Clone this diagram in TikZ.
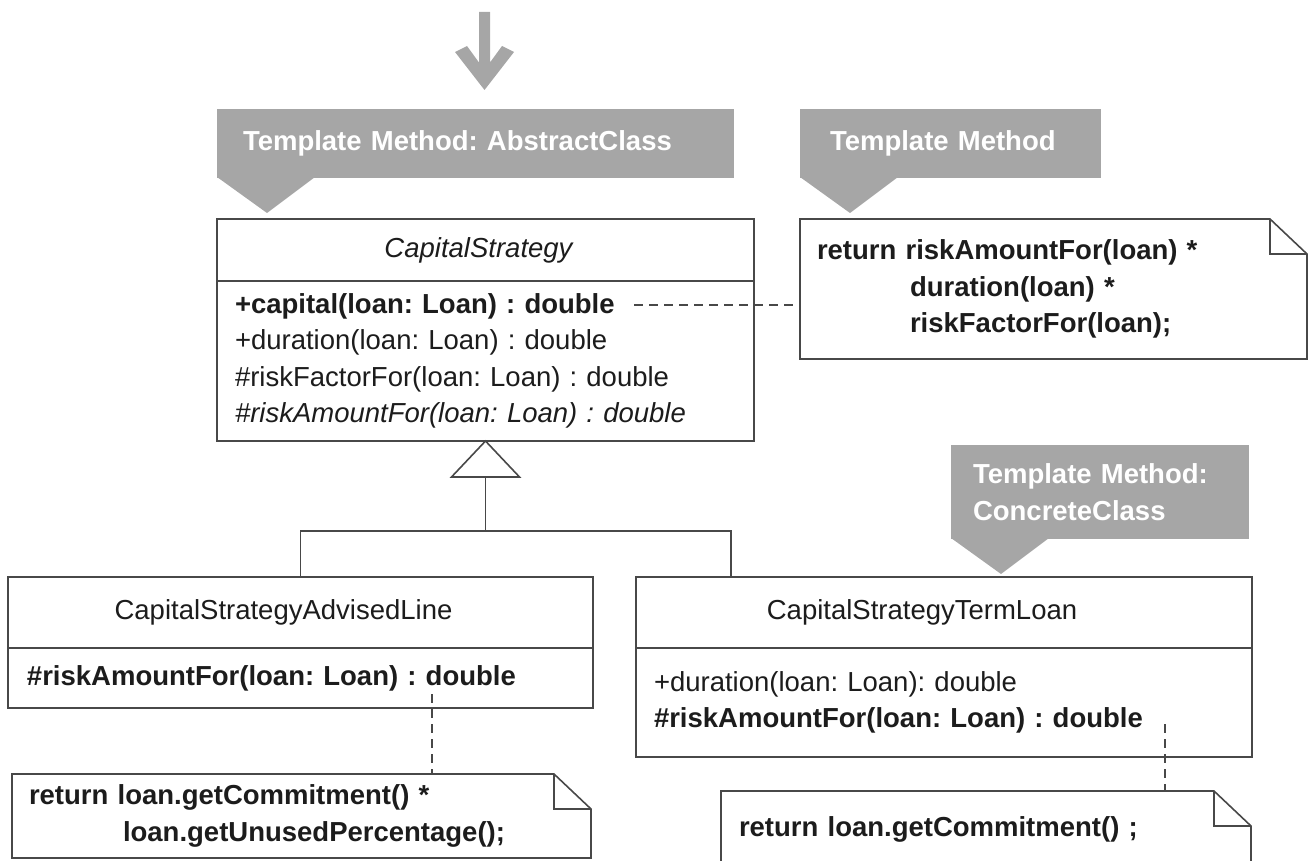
\documentclass[tikz,border=0pt]{standalone}
\usepackage{fontspec}
\setmainfont{Liberation Sans}
\usetikzlibrary{calc, positioning}

\definecolor{calloutgray}{RGB}{166,166,166}
\definecolor{linegray}{RGB}{72,72,72}
\definecolor{inkgray}{RGB}{28,28,28}

\newcommand{\umlfont}{\fontsize{27.5pt}{36.5pt}\selectfont}
\newcommand{\foldw}{37pt}
\newcommand{\foldh}{35pt}

% note with a folded corner, drawn round a named node
\newcommand{\notefold}[1]{%
  \draw[umlline] (#1.north west) -- ([xshift=-\foldw]#1.north east) -- ([yshift=-\foldh]#1.north east)
    -- (#1.south east) -- (#1.south west) -- cycle;
  \draw[umlline] ([xshift=-\foldw]#1.north east) |- ([yshift=-\foldh]#1.north east);}

% pointer under a grey callout
\newcommand{\calloutptr}[1]{%
  \fill[calloutgray] ($(#1.south west)+(0,-1)$) -- ++(98,0) -- ($(#1.south west)+(50,35)$) -- cycle;}

\begin{document}
\frenchspacing
\begin{tikzpicture}[x=1pt, y=-1pt, font=\umlfont, text=inkgray,
    umlline/.style={draw=linegray, line width=1.6pt},
    classbox/.style={umlline, fill=white, outer sep=0pt, inner ysep=0pt},
    namebox/.style={classbox, align=center, anchor=north west},
    opsbox/.style={classbox, align=left},
    callout/.style={fill=calloutgray, text=white, font=\umlfont\bfseries, inner ysep=0pt,
      outer sep=0pt, align=left, anchor=north west},
    note/.style={font=\umlfont\bfseries, inner ysep=0pt, outer sep=0pt, align=left, anchor=north west},
    notelink/.style={draw=linegray, line width=1.4pt, dash pattern=on 9pt off 6pt}]
    \useasboundingbox (0,0) rectangle (1312,861);
    \clip (0,0) rectangle (1312,861);

    % arrow on top
    \coordinate (arrtip) at (484.5,90);
    \fill[calloutgray, shift={(arrtip)}] (-5.5,-78) -- (-5.5,-27.5) -- (-17.5,-44) -- (-29.5,-38) -- (0,0)
        -- (29.5,-38) -- (17.5,-44) -- (5.5,-27.5) -- (5.5,-78) -- cycle;

    % callouts
    \node[callout, text width=465pt, inner xsep=26pt, minimum height=69pt] (abscall) at (217,109) {Template Method: AbstractClass};
    \node[callout, text width=241pt, inner xsep=30pt, minimum height=69pt] (tmcall) at (800,109) {Template Method};
    \node[callout, text width=254pt, inner xsep=22pt, minimum height=94pt] (conccall) at (951,445) {Template Method:\\ConcreteClass};
    \calloutptr{abscall}
    \calloutptr{tmcall}
    \calloutptr{conccall}

    % abstract class
    \node[namebox, minimum width=537pt, minimum height=62pt] (cs) at (217,219) {\hspace*{-14pt}\itshape CapitalStrategy};
    \node[opsbox, below=0pt of cs, text width=501pt, inner xsep=18pt, minimum height=160pt] (csops)
        {\textbf{+capital(loan: Loan) : double}\\
         +duration(loan: Loan) : double\\
         \#riskFactorFor(loan: Loan) : double\\
         \textit{\#riskAmountFor(loan: Loan) : double}};

    % concrete classes
    \node[namebox, minimum width=585pt, minimum height=71pt] (adv) at (8,577) {\hspace*{-34pt}CapitalStrategyAdvisedLine};
    \node[opsbox, below=0pt of adv, text width=547pt, inner xsep=19pt, minimum height=60pt] (advops)
        {\textbf{\#riskAmountFor(loan: Loan) : double}};
    \node[namebox, minimum width=616pt, minimum height=71pt] (term) at (636,577) {\hspace*{-44pt}CapitalStrategyTermLoan};
    \node[opsbox, below=0pt of term, text width=580pt, inner xsep=18pt, minimum height=109pt] (termops)
        {+duration(loan: Loan): double\\
         \textbf{\#riskAmountFor(loan: Loan) : double}};

    % notes
    \node[note, text width=473pt, inner xsep=17pt, minimum height=140pt] (rnote) at (800,219)
        {return riskAmountFor(loan) *\\
         \hspace*{93pt}duration(loan) *\\
         \hspace*{93pt}riskFactorFor(loan);};
    \node[note, text width=545pt, inner xsep=17pt, minimum height=84pt] (advnote) at (12,774)
        {return loan.getCommitment() *\\
         \hspace*{94pt}loan.getUnusedPercentage();};
    \node[note, text width=494pt, inner xsep=18pt, minimum height=76pt] (termnote) at (721,791)
        {return loan.getCommitment() ;};
    \notefold{rnote}
    \notefold{advnote}
    \notefold{termnote}

    % generalization
    \coordinate (genbase) at ($(csops.south)+(0,36)$);
    \coordinate (join) at ($(csops.south)+(0,90)$);
    \coordinate (termin) at ($(term.north west)+(95,0)$);
    \draw[umlline, fill=white] (csops.south) -- ($(genbase)+(-34,0)$) -- ($(genbase)+(34,0)$) -- cycle;
    \draw[umlline] (genbase) -- (join);
    \draw[umlline] (adv.north) |- (join) -| (termin);

    % note links
    \coordinate (capend) at (634,305);
    \coordinate (advend) at (432,694);
    \coordinate (termend) at (1165,724);
    \draw[notelink] (capend) -- (capend -| rnote.west);
    \draw[notelink] (advend) -- (advend |- advnote.north);
    \draw[notelink] (termend) -- (termend |- termnote.north);
\end{tikzpicture}
\end{document}
